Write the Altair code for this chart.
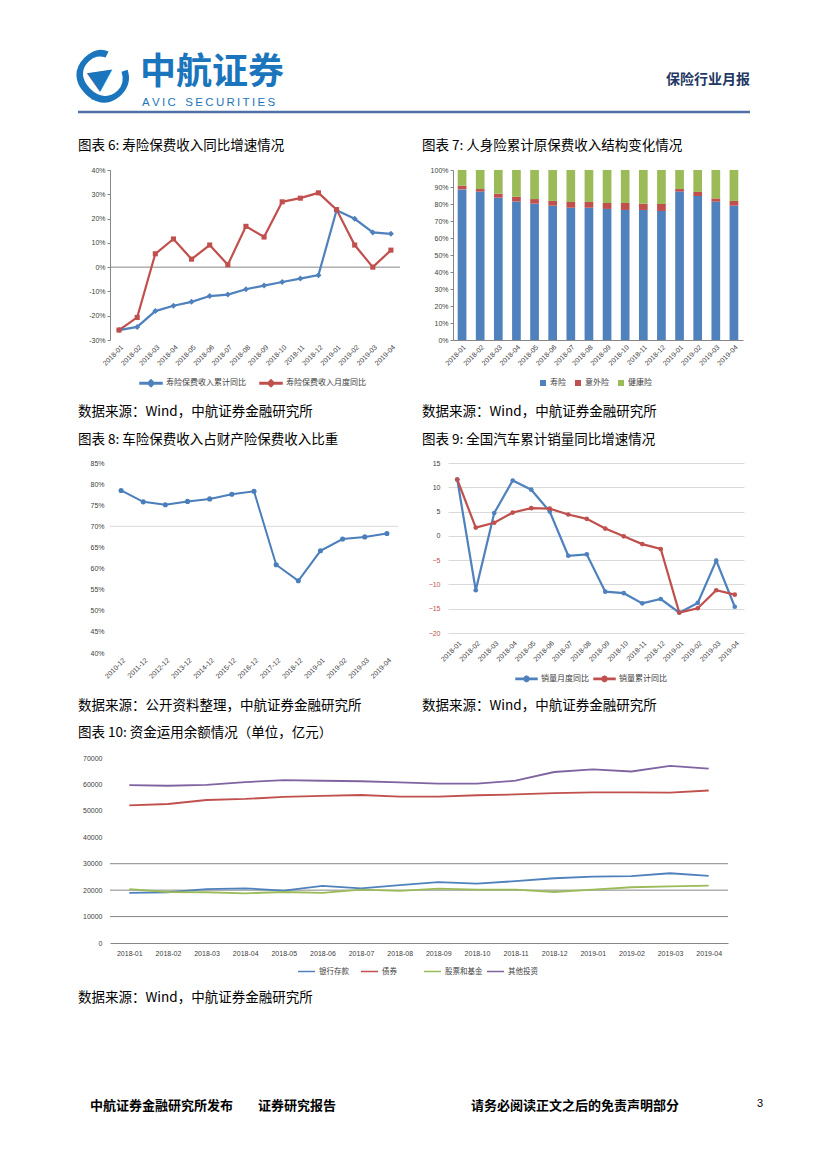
import altair as alt
import pandas as pd

CJK = "Noto Sans CJK SC"
LAT = "Liberation Sans"
BLUE, RED, GREEN, PURPLE = "#4f81bd", "#c0504d", "#9bbb59", "#8064a2"
AX = "#868686"
LBL = "#404040"
LOGO = "#1b75bc"
NAVY = "#1f3864"

# ---------------- data ----------------
months = ["2018-01", "2018-02", "2018-03", "2018-04", "2018-05", "2018-06",
          "2018-07", "2018-08", "2018-09", "2018-10", "2018-11", "2018-12",
          "2019-01", "2019-02", "2019-03", "2019-04"]

# chart 6
n6 = ["寿险保费收入累计同比", "寿险保费收入月度同比"]
life_cum = [-25.9, -24.6, -18.1, -15.9, -14.3, -11.9, -11.3, -9.1, -7.6, -6.1, -4.7, -3.3, 23.4, 19.9, 14.3, 13.7]
life_month = [-25.9, -20.7, 5.5, 11.6, 3.3, 9.1, 1.0, 16.8, 12.4, 26.9, 28.4, 30.6, 23.7, 9.1, 0.0, 7.0]
y6_ticks = [-30, -20, -10, 0, 10, 20, 30, 40]

# chart 7
n7 = ["寿险", "意外险", "健康险"]
life_share = [88.6, 87.3, 83.7, 81.4, 80.2, 79.0, 77.8, 77.8, 77.1, 76.5, 76.5, 75.9, 87.3, 84.7, 81.4, 79.0]
acc_share = [2.2, 1.5, 2.4, 2.9, 2.7, 2.8, 3.4, 3.4, 3.5, 4.1, 3.7, 4.1, 1.5, 2.4, 1.9, 2.8]
health_share = [9.2, 11.2, 13.9, 15.7, 17.1, 18.2, 18.8, 18.8, 19.4, 19.4, 19.8, 20.0, 11.2, 12.9, 16.7, 18.2]
y7_ticks = [0, 10, 20, 30, 40, 50, 60, 70, 80, 90, 100]

# chart 8
cats8 = ["2010-12", "2011-12", "2012-12", "2013-12", "2014-12", "2015-12", "2016-12",
         "2017-12", "2018-12", "2019-01", "2019-02", "2019-03", "2019-04"]
car_ratio = [78.5, 75.8, 75.1, 75.9, 76.5, 77.6, 78.3, 60.9, 57.1, 64.2, 67.0, 67.5, 68.3]
y8_ticks = [40, 45, 50, 55, 60, 65, 70, 75, 80, 85]

# chart 9
n9 = ["销量月度同比", "销量累计同比"]
sales_month = [11.6, -11.2, 4.7, 11.4, 9.5, 5.0, -4.1, -3.8, -11.5, -11.8, -13.9, -13.0, -15.8, -13.8, -5.1, -14.6]
sales_cum = [11.6, 1.7, 2.7, 4.8, 5.7, 5.6, 4.4, 3.5, 1.5, -0.1, -1.7, -2.7, -15.8, -14.9, -11.2, -12.1]
y9_ticks = [-20, -15, -10, -5, 0, 5, 10, 15]

# chart 10
n10 = ["银行存款", "债券", "股票和基金", "其他投资"]
deposits = [19000, 19200, 20400, 20700, 19800, 21600, 20700, 21900, 23000, 22500, 23400, 24500, 25100, 25300, 26400, 25400]
bonds = [52100, 52600, 54100, 54500, 55300, 55700, 56000, 55400, 55400, 55900, 56200, 56700, 57000, 57000, 56900, 57700]
stocks = [20400, 19300, 19200, 18800, 19300, 19000, 20200, 19700, 20600, 20200, 20200, 19300, 20200, 21100, 21400, 21700]
others = [59700, 59500, 59800, 60900, 61600, 61400, 61200, 60800, 60300, 60300, 61400, 64700, 65700, 64900, 67000, 66000]
y10_ticks = [0, 10000, 20000, 30000, 40000, 50000, 60000, 70000]
grid10 = [10000, 20000, 30000]

SRC = "数据来源：Wind，中航证券金融研究所"

# ---------------- helpers ----------------
one = pd.DataFrame({"k": [0]})


def frame(x0, x1, y0, y1):
    return alt.Chart(one).mark_rect(fill="white", opacity=0).encode(
        x=alt.value(x0), x2=alt.value(x1), y=alt.value(y0), y2=alt.value(y1))


def txt(s, x, y, size=13.5, weight="normal", align="left", color="#000000", font=CJK, angle=0):
    return alt.Chart(one).mark_text(text=s, align=align, baseline="middle", fontSize=size,
                                    fontWeight=weight, color=color, font=font, angle=angle).encode(
        x=alt.value(x), y=alt.value(y))


def xaxis(angle=-45, domain=False, pad=3):
    kw = dict(title=None, labelAngle=angle, labelFont=LAT, labelFontSize=7, labelColor=LBL,
              ticks=False, labelPadding=pad, domain=domain, labelOverlap=False)
    if domain:
        kw["domainColor"] = AX
    return alt.Axis(**kw)


def leg(x, y, sym, size, pad, stroke=None, fs=8, grid=None):
    kw = dict(title=None, orient="none", legendX=x, legendY=y, direction="horizontal",
              symbolType=sym, symbolSize=size, labelFont=CJK, labelFontSize=fs,
              labelColor=LBL, columnPadding=pad, labelOffset=3)
    if stroke is not None:
        kw["symbolStrokeWidth"] = stroke
    if grid is not None:
        kw["gridAlign"] = grid
    return alt.Legend(**kw)


LINE_DIAMOND = "M-1,-0.07L1,-0.07L1,0.07L-1,0.07Z M0,-0.32L0.32,0L0,0.32L-0.32,0Z"
LINE_DOT = ("M-1,-0.07L1,-0.07L1,0.07L-1,0.07Z "
            "M0.26,0L0.18,0.18L0,0.26L-0.18,0.18L-0.26,0L-0.18,-0.18L0,-0.26L0.18,-0.18Z")

# ---------------- header (origin aligned with panel plot areas, page x 110) ----------------
hdr = alt.layer(
    frame(-102, 708, 0, 120),
    txt("C", -6, 72, size=74, color=LOGO, font=LAT, align="center", angle=315),
    txt("▶", -8, 67, size=30, color=LOGO, font="DejaVu Sans", align="center", angle=325),
    txt("AVIC", -13, 90, size=5, color=LOGO, font=LAT, align="center"),
    txt("中航证券", 30, 65, size=36, weight="bold", color=LOGO),
    txt("A\u2009V\u2009I\u2009C\u00a0\u00a0\u00a0S\u2009E\u2009C\u2009U\u2009R\u2009I\u2009T\u2009I\u2009E\u2009S",
        32, 95, size=11.5, color=LOGO, font=LAT),
    txt("保险行业月报", 640, 72, size=14, weight="bold", align="right", color=NAVY),
    alt.Chart(one).mark_rule(color="#4f6fa8", strokeWidth=2.5).encode(
        x=alt.value(-32), x2=alt.value(640), y=alt.value(104)),
).properties(width=598, height=120)

# ---------------- chart 6 ----------------
df6 = pd.DataFrame({"m": months + months, "v": life_cum + life_month,
                    "s6": [n6[0]] * len(months) + [n6[1]] * len(months)})
x6 = alt.X("m:N", sort=months, scale=alt.Scale(type="point", padding=0.5), axis=xaxis())
y6 = alt.Y("v:Q", scale=alt.Scale(domain=[-30, 40], nice=False, zero=False),
           axis=alt.Axis(title=None, values=y6_ticks, labelExpr="datum.value + '%'", grid=False,
                         domainColor=AX, tickColor=AX, tickSize=3, labelFont=LAT,
                         labelFontSize=7, labelColor=LBL, labelPadding=2, labelOverlap=False))
c6 = alt.Scale(domain=n6, range=[BLUE, RED])
L6 = leg(29, 201, LINE_DIAMOND, 484, 11)
b6 = alt.Chart(df6)
p6 = alt.layer(
    frame(-102, 304, -42, 255),
    alt.Chart(pd.DataFrame({"v": [0]})).mark_rule(color=AX, strokeWidth=1).encode(y=y6),
    b6.mark_line(strokeWidth=2.2).encode(x=x6, y=y6, color=alt.Color("s6:N", scale=c6, legend=L6)),
    b6.transform_filter(alt.datum.s6 == n6[0]).mark_point(shape="diamond", filled=True, size=36, opacity=1).encode(
        x=x6, y=y6, color=alt.Color("s6:N", scale=c6, legend=L6)),
    b6.transform_filter(alt.datum.s6 == n6[1]).mark_point(shape="square", filled=True, size=26, opacity=1).encode(
        x=x6, y=y6, color=alt.Color("s6:N", scale=c6, legend=L6)),
    txt("图表 6: 寿险保费收入同比增速情况", -32, -24),
    txt(SRC, -32, 242),
).properties(width=290, height=170)

# ---------------- chart 7 ----------------
df7 = pd.DataFrame({"m": months * 3, "v": life_share + acc_share + health_share,
                    "s7": [n7[0]] * 16 + [n7[1]] * 16 + [n7[2]] * 16,
                    "o": [0] * 16 + [1] * 16 + [2] * 16})
p7 = alt.layer(
    frame(-39, 365, -42, 255),
    alt.Chart(df7).mark_bar().encode(
        x=alt.X("m:N", sort=months, scale=alt.Scale(type="band", paddingInner=0.52, paddingOuter=0.26),
                axis=xaxis(domain=True)),
        y=alt.Y("v:Q", stack="zero", scale=alt.Scale(domain=[0, 100], nice=False),
                axis=alt.Axis(title=None, values=y7_ticks, labelExpr="datum.value + '%'", grid=False,
                              domainColor=AX, tickColor=AX, tickSize=3, labelFont=LAT,
                              labelFontSize=7, labelColor=LBL, labelPadding=2, labelOverlap=False)),
        color=alt.Color("s7:N", scale=alt.Scale(domain=n7, range=[BLUE, RED, GREEN]),
                        legend=leg(86, 209, "square", 36, 8)),
        order=alt.Order("o:Q")),
    txt("图表 7: 人身险累计原保费收入结构变化情况", -31, -24),
    txt(SRC, -31, 242),
).properties(width=290, height=170)

# ---------------- chart 8 ----------------
df8 = pd.DataFrame({"m8": cats8, "v": car_ratio})
x8 = alt.X("m8:N", sort=cats8, scale=alt.Scale(type="point", padding=0.5), axis=xaxis())
y8 = alt.Y("v:Q", scale=alt.Scale(domain=[40, 85], nice=False, zero=False),
           axis=alt.Axis(title=None, values=y8_ticks, labelExpr="datum.value + '%'", grid=False,
                         domain=False, ticks=False, labelFont=LAT, labelFontSize=7,
                         labelColor=LBL, labelPadding=6, labelOverlap=False))
b8 = alt.Chart(df8)
p8 = alt.layer(
    frame(-102, 304, -38, 255),
    alt.Chart(pd.DataFrame({"v": [70]})).mark_rule(color="#d9d9d9", strokeWidth=1).encode(y=y8),
    b8.mark_line(color="#4a7ebb", strokeWidth=2).encode(x=x8, y=y8),
    b8.mark_point(color="#4a7ebb", filled=True, size=26, opacity=1).encode(x=x8, y=y8),
    txt("图表 8: 车险保费收入占财产险保费收入比重", -32, -23),
    txt("数据来源：公开资料整理，中航证券金融研究所", -32, 243),
).properties(width=288, height=190)

# ---------------- chart 9 ----------------
df9 = pd.DataFrame({"m": months + months, "v": sales_month + sales_cum,
                    "s9": [n9[0]] * 16 + [n9[1]] * 16})
x9 = alt.X("m:N", sort=months, scale=alt.Scale(type="point", padding=0.5), axis=xaxis(pad=6))
y9 = alt.Y("v:Q", scale=alt.Scale(domain=[-20, 15], nice=False, zero=False),
           axis=alt.Axis(title=None, values=y9_ticks, grid=True, gridColor="#d9d9d9", domain=False,
                         ticks=False, labelFont=LAT, labelFontSize=7, labelPadding=8, labelOverlap=False,
                         labelColor={"condition": {"test": "datum.value < 0", "value": "#c0504d"},
                                     "value": LBL}))
c9 = alt.Scale(domain=n9, range=[BLUE, RED])
L9 = leg(67, 204, LINE_DOT, 441, 2)
b9 = alt.Chart(df9)
p9 = alt.layer(
    frame(-34, 370, -38, 255),
    b9.mark_line(strokeWidth=2.2).encode(x=x9, y=y9, color=alt.Color("s9:N", scale=c9, legend=L9)),
    b9.mark_point(filled=True, size=22, opacity=1).encode(
        x=x9, y=y9, color=alt.Color("s9:N", scale=c9, legend=L9)),
    txt("图表 9: 全国汽车累计销量同比增速情况", -26, -23),
    txt(SRC, -26, 243),
).properties(width=296, height=170)

# ---------------- chart 10 ----------------
df10 = pd.DataFrame({"m": months * 4, "v": deposits + bonds + stocks + others,
                     "s10": [n10[0]] * 16 + [n10[1]] * 16 + [n10[2]] * 16 + [n10[3]] * 16})
x10 = alt.X("m:N", sort=months, scale=alt.Scale(type="point", padding=0.5),
            axis=xaxis(angle=0, domain=True, pad=6))
y10 = alt.Y("v:Q", scale=alt.Scale(domain=[0, 70000], nice=False),
            axis=alt.Axis(title=None, values=y10_ticks, format="d", grid=False, domain=False,
                          ticks=False, labelFont=LAT, labelFontSize=7, labelColor=LBL, labelPadding=8,
                          labelOverlap=False))
p10 = alt.layer(
    frame(-102, 708, -40, 254),
    alt.Chart(pd.DataFrame({"v": grid10})).mark_rule(color=AX, strokeWidth=1).encode(y=y10),
    alt.Chart(df10).mark_line(strokeWidth=1.8).encode(
        x=x10, y=y10,
        color=alt.Color("s10:N", scale=alt.Scale(domain=n10, range=[BLUE, RED, GREEN, PURPLE]),
                        legend=leg(187, 204, "stroke", 289, 1, stroke=1.5, fs=7.5, grid="all"))),
    txt("图表 10: 资金运用余额情况（单位，亿元）", -32, -25),
    txt(SRC, -32, 240),
).properties(width=618, height=185)

# ---------------- footer ----------------
ftr = alt.layer(
    frame(-102, 708, 0, 136),
    txt("中航证券金融研究所发布", -20, 94, size=13, weight="bold"),
    txt("证券研究报告", 148, 94, size=13, weight="bold"),
    txt("请务必阅读正文之后的免责声明部分", 361, 94, size=13, weight="bold"),
    txt("3", 647, 92, size=11, font=LAT),
).properties(width=598, height=136)


def indep(c):
    return c.resolve_scale(color="independent").resolve_legend(color="independent")


row1 = indep(alt.hconcat(p6, p7, spacing=0))
row2 = indep(alt.hconcat(p8, p9, spacing=0))

chart = indep(alt.vconcat(hdr, row1, row2, p10, ftr, spacing=0)).properties(
    padding=0).configure_view(strokeWidth=0)

chart.save("out.html", embed_options={"renderer": "svg", "actions": False})
